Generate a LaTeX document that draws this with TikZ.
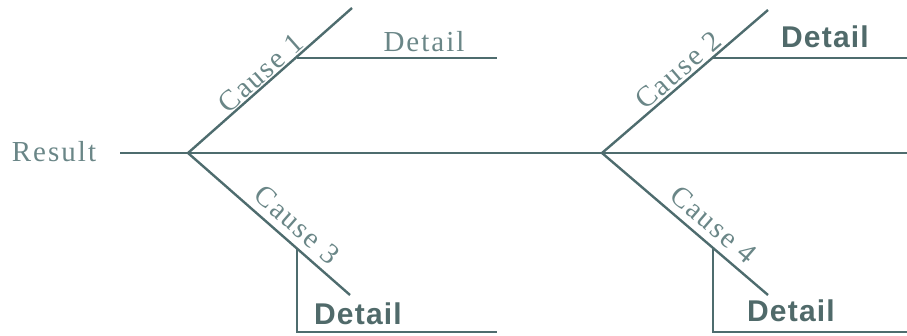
\documentclass[tikz,border=0pt]{standalone}
\usepackage{fontspec}
\usepackage{tikz}
\usetikzlibrary{positioning}
\newfontfamily\bonefont[LetterSpace=7]{Liberation Serif}
\newfontfamily\detailfont[LetterSpace=4]{Liberation Sans}
\definecolor{bonecol}{HTML}{4E6C6E}
\definecolor{bonetext}{HTML}{6A8687}
\definecolor{detailtext}{HTML}{506A6A}
\begin{document}
\begin{tikzpicture}[x=1pt, y=1pt,
  boneline/.style={line width=2.4pt, bonecol},
  ribline/.style={line width=1.8pt, bonecol},
  cause/.style={font=\fontsize{29}{30}\selectfont\bonefont, bonetext, sloped, inner sep=1pt},
  plaindetail/.style={font=\fontsize{29}{30}\selectfont\bonefont, bonetext},
  bolddetail/.style={font=\fontsize{30}{32}\selectfont\detailfont\bfseries, detailtext}]
\useasboundingbox (0, 0) rectangle (907, 335);
% spine and forks
\node[plaindetail] (result) at (54, 183) {Result};
\coordinate (tail) at (120, 182);
\coordinate (head) at (907, 182);
\coordinate (forkA) at (188, 182);
\coordinate (forkB) at (602, 182);
\coordinate (tip1) at (352, 327);
\coordinate (tip3) at (350, 40);
\coordinate (tip2) at (768, 325);
\coordinate (tip4) at (768, 40);
\draw[boneline] (tail) -- (head);
\draw[boneline] (forkA) -- (tip1);
\draw[boneline] (forkA) -- (tip3);
\draw[boneline] (forkB) -- (tip2);
\draw[boneline] (forkB) -- (tip4);
\path (forkA) -- (tip1) node[cause, above=1pt, pos=0.49] (cause1) {Cause 1};
\path (forkB) -- (tip2) node[cause, above=2pt, pos=0.51] (cause2) {Cause 2};
\path (forkA) -- (tip3) node[cause, above=7pt, pos=0.6] (cause3) {Cause 3};
\path (forkB) -- (tip4) node[cause, above=7pt, pos=0.6] (cause4) {Cause 4};
% details
\coordinate (knee1) at (297, 277);
\coordinate (end1) at (497, 277);
\coordinate (knee2) at (712, 277);
\coordinate (end2) at (907, 277);
\coordinate (knee3) at (297, 86);
\coordinate (foot3) at (297, 3);
\coordinate (end3) at (497, 3);
\coordinate (knee4) at (713, 87);
\coordinate (foot4) at (713, 3);
\coordinate (end4) at (907, 3);
\draw[ribline] (knee1) -- (end1);
\draw[ribline] (knee2) -- (end2);
\draw[ribline] (knee3) -- (foot3) -- (end3);
\draw[ribline] (knee4) -- (foot4) -- (end4);
\node[plaindetail] (detail1) at (424, 293) {Detail};
\node[bolddetail] (detail2) at (825, 298) {Detail};
\node[bolddetail] (detail3) at (358, 21) {Detail};
\node[bolddetail] (detail4) at (791, 24) {Detail};
\end{tikzpicture}
\end{document}
